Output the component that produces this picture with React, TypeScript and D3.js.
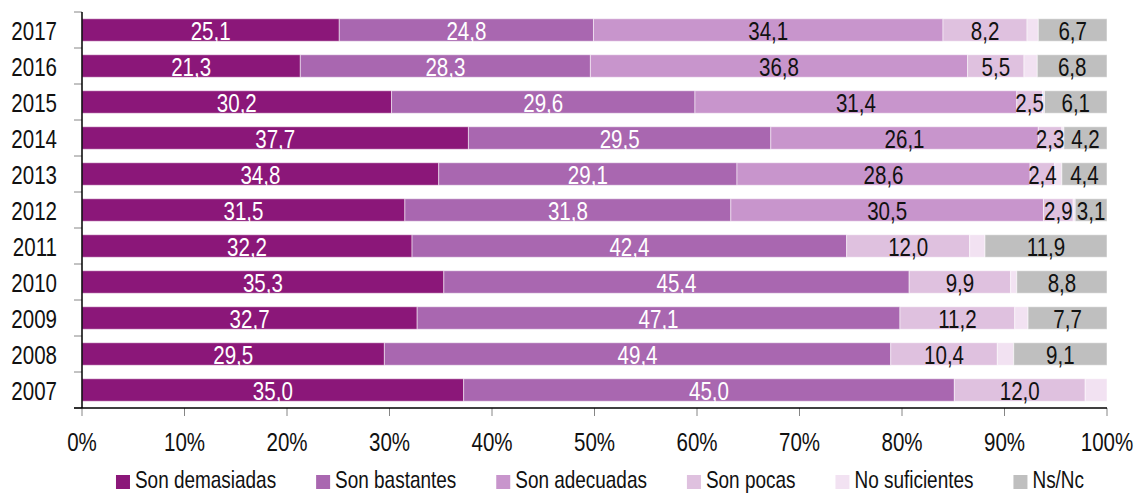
import React, { useEffect, useRef } from "react";
import * as d3 from "d3";

// datos (porcentajes)
const years = ["2017", "2016", "2015", "2014", "2013", "2012", "2011", "2010", "2009", "2008", "2007"];
const seriesNames = ["Son demasiadas", "Son bastantes", "Son adecuadas", "Son pocas", "No suficientes", "Ns/Nc"];
const demasiadas = [25.1, 21.3, 30.2, 37.7, 34.8, 31.5, 32.2, 35.3, 32.7, 29.5, 35.0];
const bastantes = [24.8, 28.3, 29.6, 29.5, 29.1, 31.8, 42.4, 45.4, 47.1, 49.4, 45.0];
const adecuadas = [34.1, 36.8, 31.4, 26.1, 28.6, 30.5, 0, 0, 0, 0, 0];
const pocas = [8.2, 5.5, 2.5, 2.3, 2.4, 2.9, 12.0, 9.9, 11.2, 10.4, 12.0];
const noSuficientes = [1.1, 1.3, 0.2, 0.2, 0.7, 0.2, 1.5, 0.6, 1.3, 1.6, 2.0];
const nsnc = [6.7, 6.8, 6.1, 4.2, 4.4, 3.1, 11.9, 8.8, 7.7, 9.1, 0];
const xTicks = [0, 0.1, 0.2, 0.3, 0.4, 0.5, 0.6, 0.7, 0.8, 0.9, 1];

const colors = ["#8b1779", "#a967b0", "#c895cc", "#dfc1df", "#f2e2f2", "#bfbfbf"];
const labelColors = ["#fff", "#fff", "#111", "#111", null, "#111"];
// no hay fuente estrecha instalada: Liberation Sans comprimida (como Arial Narrow)
const FONT = "'Liberation Sans', Arial, sans-serif";
const NARROW = 0.79;

const W = 1136;
const H = 494;

// coloca un texto estrecho en (x, y)
function place(sel: any, fx: (d: any, i: number) => number, fy: (d: any, i: number) => number) {
  sel.attr("transform", (d: any, i: number) => `translate(${fx(d, i)},${fy(d, i)}) scale(${NARROW},1)`);
}

const App = () => {
  const chartRef = useRef<SVGSVGElement | null>(null);

  useEffect(() => {
    document.body.style.margin = "0";
    const allSeries = [demasiadas, bastantes, adecuadas, pocas, noSuficientes, nsnc];
    const rows = years.map((year, i) => {
      const row: any = { year };
      seriesNames.forEach((s, k) => (row[s] = allSeries[k][i]));
      return row;
    });

    const svg = d3.select(chartRef.current);
    svg.selectAll("*").remove();

    const x = d3.scaleLinear().domain([0, 1]).range([82, 1107]);
    const y = d3.scaleBand().domain(years).range([12, 408]).paddingInner(0.375).paddingOuter(0.1875);

    const stacked = d3.stack<any>().keys(seriesNames).offset(d3.stackOffsetExpand)(rows);

    // barras
    const layers = svg
      .append("g")
      .selectAll("g")
      .data(stacked)
      .enter()
      .append("g")
      .attr("fill", (d, k) => colors[k]);

    layers
      .selectAll("rect")
      .data((d) => d)
      .enter()
      .append("rect")
      .attr("x", (d) => x(d[0]))
      .attr("y", (d) => y(d.data.year)!)
      .attr("width", (d) => Math.max(0, x(d[1]) - x(d[0])))
      .attr("height", y.bandwidth())
      .attr("stroke", "#fff")
      .attr("stroke-opacity", 0.5)
      .attr("stroke-width", 1);

    // etiquetas
    stacked.forEach((layer, k) => {
      if (!labelColors[k]) return;
      const t = svg
        .append("g")
        .selectAll("text")
        .data(layer.filter((d) => d.data[seriesNames[k]] > 0))
        .enter()
        .append("text")
        .attr("text-anchor", "middle")
        .attr("font-family", FONT)
        .attr("font-size", 26)
        .attr("fill", labelColors[k] as string)
        .text((d) => d3.format(".1f")(d.data[seriesNames[k]]).replace(".", ","));
      place(t, (d) => (x(d[0]) + x(d[1])) / 2, (d) => y(d.data.year)! + y.bandwidth() / 2 + 9.5);
    });

    // eje Y
    const step = y.step();
    const yAxis = svg.append("g");
    yAxis
      .selectAll("line")
      .data(d3.range(years.length + 1))
      .enter()
      .append("line")
      .attr("x1", 74)
      .attr("x2", 82)
      .attr("y1", (i) => 12 + i * step)
      .attr("y2", (i) => 12 + i * step)
      .attr("stroke", "#868686");
    yAxis
      .append("line")
      .attr("x1", 82)
      .attr("x2", 82)
      .attr("y1", 12)
      .attr("y2", 408)
      .attr("stroke", "#000")
      .attr("stroke-width", 1.5);
    const yLabels = yAxis
      .selectAll("text")
      .data(years)
      .enter()
      .append("text")
      .attr("text-anchor", "end")
      .attr("font-family", FONT)
      .attr("font-size", 26)
      .attr("fill", "#111")
      .text((d) => d);
    place(yLabels, () => 57, (d) => y(d)! + y.bandwidth() / 2 + 9.5);

    // eje X
    const xAxis = svg.append("g");
    xAxis
      .selectAll("line")
      .data(xTicks)
      .enter()
      .append("line")
      .attr("x1", (d) => x(d))
      .attr("x2", (d) => x(d))
      .attr("y1", 408)
      .attr("y2", 416)
      .attr("stroke", "#868686");
    xAxis
      .append("line")
      .attr("x1", 74)
      .attr("x2", 1107)
      .attr("y1", 408)
      .attr("y2", 408)
      .attr("stroke", "#000")
      .attr("stroke-width", 1.5);
    const xLabels = xAxis
      .selectAll("text")
      .data(xTicks)
      .enter()
      .append("text")
      .attr("text-anchor", "middle")
      .attr("font-family", FONT)
      .attr("font-size", 26)
      .attr("fill", "#111")
      .text((d) => d3.format(".0%")(d));
    place(xLabels, (d) => x(d), () => 451);

    // leyenda
    const legend = svg.append("g");
    const items = legend
      .selectAll("g")
      .data(seriesNames)
      .enter()
      .append("g");
    items
      .append("rect")
      .attr("width", 14)
      .attr("height", 14)
      .attr("y", 475)
      .attr("fill", (d, k) => colors[k]);
    const texts = items
      .append("text")
      .attr("font-family", FONT)
      .attr("font-size", 24)
      .attr("fill", "#111")
      .text((d) => d);
    place(texts, () => 19, () => 488);
    const widths = texts.nodes().map((n) => (n as SVGTextElement).getComputedTextLength() * NARROW + 19);
    const gap = 40;
    const total = d3.sum(widths) + gap * (widths.length - 1);
    let cx = 600 - total / 2;
    items.attr("transform", (d, k) => {
      const tr = `translate(${cx},0)`;
      cx += widths[k] + gap;
      return tr;
    });
  }, []);

  return <svg ref={chartRef} width={W} height={H} style={{ display: "block", background: "#fff" }} />;
};

export default App;
